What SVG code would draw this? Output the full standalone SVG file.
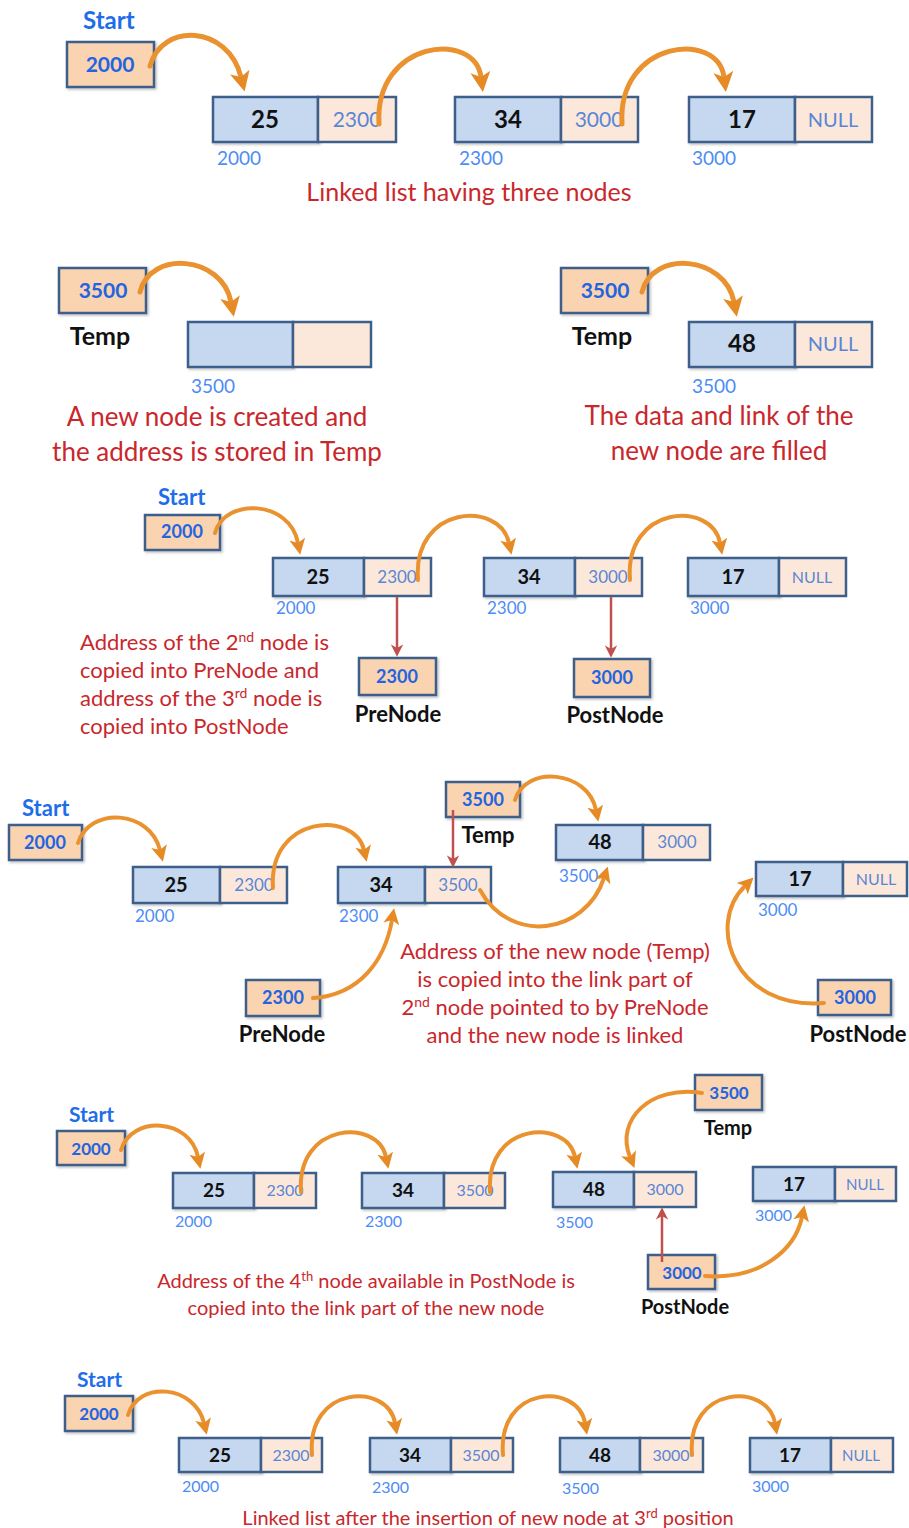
<svg xmlns="http://www.w3.org/2000/svg" width="909" height="1528" viewBox="0 0 909 1528">
<defs>
<style>
text{font-family:Lato,"Liberation Sans",sans-serif}
.ptr{fill:#FAD3B0;stroke:#3E5F8A;stroke-width:2.5}
.dat{fill:#C5D8F0;stroke:#3E5F8A;stroke-width:2.5}
.lnk{fill:#FCE8DA;stroke:#3E5F8A;stroke-width:2.5}
.val{font-weight:bold;fill:#111;text-anchor:middle}
.pv{font-weight:bold;fill:#2364E0;text-anchor:middle}
.lv{fill:#5A86D4;text-anchor:middle}
.addr{fill:#4E8CF5}
.lbl{font-weight:bold;fill:#111;text-anchor:middle}
.start{font-weight:bold;fill:#1E6EEA}
.cap{fill:#C9272C;text-anchor:middle}
.capl{fill:#C9272C}
.oa{fill:none;stroke:#E9922F;stroke-width:5;stroke-linecap:round;marker-end:url(#oh)}
.oa4{fill:none;stroke:#E9922F;stroke-width:4;stroke-linecap:round;marker-end:url(#oh)}
.ra{fill:none;stroke:#C0504D;stroke-width:2.5;marker-end:url(#rh)}
.sh{filter:url(#sh)}
</style>
<filter id="sh" x="-10%" y="-10%" width="130%" height="140%"><feDropShadow dx="1.5" dy="1.5" stdDeviation="1" flood-color="#000" flood-opacity="0.25"/></filter>
<marker id="oh" viewBox="0 0 10 10" refX="2.5" refY="5" markerWidth="4" markerHeight="4.4" orient="auto" markerUnits="strokeWidth"><path d="M0,0 L10,5 L0,10 L2.5,5 Z" fill="#E58A25"/></marker>
<marker id="rh" viewBox="0 0 10 10" refX="3" refY="5" markerWidth="5" markerHeight="5" orient="auto" markerUnits="strokeWidth"><path d="M0,0 L10,5 L0,10 L3,5 Z" fill="#C0504D"/></marker>
</defs>

<!-- Section 1 -->
<g id="s1-start">
<text class="start" x="83" y="29" font-size="24">Start</text>
<rect class="ptr sh" x="67" y="42" width="87" height="45"/>
<text class="pv" x="110" y="72" font-size="21">2000</text>
</g>
<g id="s1-n25">
<rect class="dat sh" x="213" y="97" width="105" height="45"/><rect class="lnk" x="318" y="97" width="78" height="45"/>
<text class="val" x="265" y="128" font-size="24">25</text><text class="lv" x="357" y="127" font-size="21">2300</text>
<text class="addr" x="217" y="165" font-size="19">2000</text>
</g>
<g id="s1-n34">
<rect class="dat sh" x="455" y="97" width="106" height="45"/><rect class="lnk" x="561" y="97" width="77" height="45"/>
<text class="val" x="508" y="128" font-size="24">34</text><text class="lv" x="599" y="127" font-size="21">3000</text>
<text class="addr" x="459" y="165" font-size="19">2300</text>
</g>
<g id="s1-n17">
<rect class="dat sh" x="689" y="97" width="106" height="45"/><rect class="lnk" x="795" y="97" width="77" height="45"/>
<text class="val" x="742" y="128" font-size="24">17</text><text class="lv" x="833" y="127" font-size="20">NULL</text>
<text class="addr" x="692" y="165" font-size="19">3000</text>
</g>
<text class="cap" x="469" y="201" font-size="25">Linked list having three nodes</text>

<!-- Section 2 -->
<g id="s2-temp">
<rect class="ptr sh" x="59" y="268" width="87" height="45"/>
<text class="pv" x="103" y="298" font-size="21">3500</text>
<text class="lbl" x="100" y="345" font-size="25">Temp</text>
</g>
<g id="s2-new">
<rect class="dat sh" x="188" y="322" width="105" height="45"/><rect class="lnk" x="293" y="322" width="78" height="45"/>
<text class="addr" x="191" y="393" font-size="19">3500</text>
</g>
<text class="cap" x="217" y="426" font-size="26">A new node is created and</text>
<text class="cap" x="217" y="461" font-size="26">the address is stored in Temp</text>
<g id="s2-temp2">
<rect class="ptr sh" x="561" y="268" width="87" height="45"/>
<text class="pv" x="605" y="298" font-size="21">3500</text>
<text class="lbl" x="602" y="345" font-size="25">Temp</text>
</g>
<g id="s2-n48">
<rect class="dat sh" x="689" y="322" width="106" height="45"/><rect class="lnk" x="795" y="322" width="77" height="45"/>
<text class="val" x="742" y="352" font-size="24">48</text><text class="lv" x="833" y="351" font-size="20">NULL</text>
<text class="addr" x="692" y="393" font-size="19">3500</text>
</g>
<text class="cap" x="719" y="425" font-size="26">The data and link of the</text>
<text class="cap" x="719" y="460" font-size="26">new node are filled</text>

<!-- Section 3 -->
<g id="s3-start">
<text class="start" x="158" y="505" font-size="22">Start</text>
<rect class="ptr sh" x="145" y="515" width="75" height="35"/>
<text class="pv" x="182" y="538" font-size="18">2000</text>
</g>
<g id="s3-n25">
<rect class="dat sh" x="273" y="558" width="91" height="38"/><rect class="lnk" x="364" y="558" width="67" height="38"/>
<text class="val" x="318" y="584" font-size="20">25</text><text class="lv" x="397" y="583" font-size="17">2300</text>
<text class="addr" x="276" y="614" font-size="17">2000</text>
</g>
<g id="s3-n34">
<rect class="dat sh" x="484" y="558" width="91" height="38"/><rect class="lnk" x="575" y="558" width="67" height="38"/>
<text class="val" x="529" y="584" font-size="20">34</text><text class="lv" x="608" y="583" font-size="17">3000</text>
<text class="addr" x="487" y="614" font-size="17">2300</text>
</g>
<g id="s3-n17">
<rect class="dat sh" x="688" y="558" width="91" height="38"/><rect class="lnk" x="779" y="558" width="67" height="38"/>
<text class="val" x="733" y="584" font-size="20">17</text><text class="lv" x="812" y="583" font-size="16">NULL</text>
<text class="addr" x="690" y="614" font-size="17">3000</text>
</g>
<g id="s3-pre">
<rect class="ptr sh" x="359" y="658" width="77" height="37"/>
<text class="pv" x="397" y="683" font-size="18">2300</text>
<text class="lbl" x="398" y="722" font-size="22">PreNode</text>
</g>
<g id="s3-post">
<rect class="ptr sh" x="574" y="659" width="76" height="38"/>
<text class="pv" x="612" y="684" font-size="18">3000</text>
<text class="lbl" x="615" y="723" font-size="22">PostNode</text>
</g>
<text class="capl" x="80" y="650" font-size="22">Address of the 2<tspan dy="-8" font-size="14">nd</tspan><tspan dy="8"> node is</tspan></text>
<text class="capl" x="80" y="678" font-size="22">copied into PreNode and</text>
<text class="capl" x="80" y="706" font-size="22">address of the 3<tspan dy="-8" font-size="14">rd</tspan><tspan dy="8"> node is</tspan></text>
<text class="capl" x="80" y="734" font-size="22">copied into PostNode</text>

<!-- Section 4 -->
<g id="s4-start">
<text class="start" x="22" y="816" font-size="22">Start</text>
<rect class="ptr sh" x="9" y="825" width="73" height="35"/>
<text class="pv" x="45" y="849" font-size="18">2000</text>
</g>
<g id="s4-n25">
<rect class="dat sh" x="133" y="867" width="87" height="36"/><rect class="lnk" x="220" y="867" width="67" height="36"/>
<text class="val" x="176" y="892" font-size="20">25</text><text class="lv" x="254" y="891" font-size="17">2300</text>
<text class="addr" x="135" y="922" font-size="17">2000</text>
</g>
<g id="s4-n34">
<rect class="dat sh" x="338" y="867" width="87" height="36"/><rect class="lnk" x="425" y="867" width="66" height="36"/>
<text class="val" x="381" y="892" font-size="20">34</text><text class="lv" x="458" y="891" font-size="17">3500</text>
<text class="addr" x="339" y="922" font-size="17">2300</text>
</g>
<g id="s4-temp">
<rect class="ptr sh" x="446" y="782" width="74" height="35"/>
<text class="pv" x="483" y="806" font-size="18">3500</text>
<text class="lbl" x="488" y="843" font-size="22">Temp</text>
</g>
<g id="s4-n48">
<rect class="dat sh" x="556" y="825" width="87" height="35"/><rect class="lnk" x="643" y="825" width="67" height="35"/>
<text class="val" x="600" y="849" font-size="20">48</text><text class="lv" x="677" y="848" font-size="17">3000</text>
<text class="addr" x="559" y="882" font-size="17">3500</text>
</g>
<g id="s4-n17">
<rect class="dat sh" x="756" y="862" width="87" height="34"/><rect class="lnk" x="843" y="862" width="64" height="34"/>
<text class="val" x="800" y="886" font-size="20">17</text><text class="lv" x="876" y="885" font-size="16">NULL</text>
<text class="addr" x="758" y="916" font-size="17">3000</text>
</g>
<g id="s4-pre">
<rect class="ptr sh" x="246" y="980" width="74" height="36"/>
<text class="pv" x="283" y="1004" font-size="18">2300</text>
<text class="lbl" x="282" y="1042" font-size="22">PreNode</text>
</g>
<g id="s4-post">
<rect class="ptr sh" x="818" y="980" width="73" height="35"/>
<text class="pv" x="855" y="1004" font-size="18">3000</text>
<text class="lbl" x="858" y="1042" font-size="22">PostNode</text>
</g>
<text class="cap" x="555" y="959" font-size="22">Address of the new node (Temp)</text>
<text class="cap" x="555" y="987" font-size="22">is copied  into the link part of</text>
<text class="cap" x="555" y="1015" font-size="22">2<tspan dy="-8" font-size="14">nd</tspan><tspan dy="8"> node pointed to by PreNode</tspan></text>
<text class="cap" x="555" y="1043" font-size="22">and the new node is linked</text>

<!-- Section 5 -->
<g id="s5-start">
<text class="start" x="69" y="1122" font-size="21">Start</text>
<rect class="ptr sh" x="57" y="1131" width="68" height="34"/>
<text class="pv" x="91" y="1155" font-size="17">2000</text>
</g>
<g id="s5-n25">
<rect class="dat sh" x="173" y="1173" width="81" height="35"/><rect class="lnk" x="254" y="1173" width="62" height="35"/>
<text class="val" x="214" y="1197" font-size="19">25</text><text class="lv" x="285" y="1196" font-size="16">2300</text>
<text class="addr" x="175" y="1227" font-size="16">2000</text>
</g>
<g id="s5-n34">
<rect class="dat sh" x="362" y="1173" width="82" height="35"/><rect class="lnk" x="444" y="1173" width="61" height="35"/>
<text class="val" x="403" y="1197" font-size="19">34</text><text class="lv" x="475" y="1196" font-size="16">3500</text>
<text class="addr" x="365" y="1227" font-size="16">2300</text>
</g>
<g id="s5-n48">
<rect class="dat sh" x="553" y="1172" width="81" height="35"/><rect class="lnk" x="634" y="1172" width="62" height="35"/>
<text class="val" x="594" y="1196" font-size="19">48</text><text class="lv" x="665" y="1195" font-size="16">3000</text>
<text class="addr" x="556" y="1228" font-size="16">3500</text>
</g>
<g id="s5-temp">
<rect class="ptr sh" x="695" y="1075" width="67" height="35"/>
<text class="pv" x="729" y="1099" font-size="17">3500</text>
<text class="lbl" x="728" y="1135" font-size="20">Temp</text>
</g>
<g id="s5-n17">
<rect class="dat sh" x="753" y="1167" width="82" height="34"/><rect class="lnk" x="835" y="1167" width="61" height="34"/>
<text class="val" x="794" y="1191" font-size="19">17</text><text class="lv" x="865" y="1190" font-size="15">NULL</text>
<text class="addr" x="755" y="1221" font-size="16">3000</text>
</g>
<g id="s5-post">
<rect class="ptr sh" x="648" y="1255" width="67" height="34"/>
<text class="pv" x="682" y="1279" font-size="17">3000</text>
<text class="lbl" x="685" y="1314" font-size="20">PostNode</text>
</g>
<text class="cap" x="366" y="1288" font-size="20">Address of the 4<tspan dy="-7" font-size="13">th</tspan><tspan dy="7"> node available in PostNode is</tspan></text>
<text class="cap" x="366" y="1315" font-size="20">copied into the link part of the new node</text>

<!-- Section 6 -->
<g id="s6-start">
<text class="start" x="77" y="1387" font-size="21">Start</text>
<rect class="ptr sh" x="65" y="1396" width="68" height="35"/>
<text class="pv" x="99" y="1420" font-size="17">2000</text>
</g>
<g id="s6-n25">
<rect class="dat sh" x="179" y="1438" width="82" height="34"/><rect class="lnk" x="261" y="1438" width="61" height="34"/>
<text class="val" x="220" y="1462" font-size="19">25</text><text class="lv" x="291" y="1461" font-size="16">2300</text>
<text class="addr" x="182" y="1492" font-size="16">2000</text>
</g>
<g id="s6-n34">
<rect class="dat sh" x="370" y="1438" width="81" height="34"/><rect class="lnk" x="451" y="1438" width="62" height="34"/>
<text class="val" x="410" y="1462" font-size="19">34</text><text class="lv" x="481" y="1461" font-size="16">3500</text>
<text class="addr" x="372" y="1493" font-size="16">2300</text>
</g>
<g id="s6-n48">
<rect class="dat sh" x="560" y="1438" width="80" height="34"/><rect class="lnk" x="640" y="1438" width="63" height="34"/>
<text class="val" x="600" y="1462" font-size="19">48</text><text class="lv" x="671" y="1461" font-size="16">3000</text>
<text class="addr" x="562" y="1494" font-size="16">3500</text>
</g>
<g id="s6-n17">
<rect class="dat sh" x="750" y="1438" width="81" height="34"/><rect class="lnk" x="831" y="1438" width="62" height="34"/>
<text class="val" x="790" y="1462" font-size="19">17</text><text class="lv" x="861" y="1461" font-size="15">NULL</text>
<text class="addr" x="752" y="1492" font-size="16">3000</text>
</g>
<text class="cap" x="488" y="1525" font-size="20">Linked list after the insertion of new node at 3<tspan dy="-7" font-size="13">rd</tspan><tspan dy="7"> position</tspan></text>

<!-- Connectors -->
<g id="connectors">
<path class="oa" d="M150,66 C162,22 228,25 241,77"/>
<path class="oa" d="M379,124 C374,40 475,30 481,77"/>
<path class="oa" d="M622,124 C617,40 718,30 724,77"/>
<path class="oa" d="M140,292 C150,250 222,255 231,302"/>
<path class="oa" d="M642,292 C652,250 725,255 734,302"/>
<path class="oa4" d="M215,533 C225,497 290,500 298,543"/>
<path class="oa4" d="M418,580 C412,505 500,500 509,543"/>
<path class="oa4" d="M630,580 C624,505 712,500 720,543"/>
<path class="ra" d="M397,597 L397,648"/>
<path class="ra" d="M611,597 L611,649"/>
<path class="oa4" d="M78,843 C90,806 150,810 160,850"/>
<path class="oa4" d="M273,888 C268,815 355,810 364,850"/>
<path class="oa4" d="M515,800 C525,765 588,770 596,810"/>
<path class="oa4" d="M480,890 C510,945 585,935 604,878"/>
<path class="oa4" d="M313,998 C360,995 385,960 392,920"/>
<path class="oa4" d="M824,1003 C735,1010 705,925 745,886"/>
<path class="ra" d="M453,810 L453,859"/>
<path class="oa4" d="M121,1150 C132,1115 190,1118 198,1157"/>
<path class="oa4" d="M301,1192 C296,1122 378,1118 386,1157"/>
<path class="oa4" d="M490,1192 C485,1122 567,1118 575,1157"/>
<path class="oa4" d="M702,1093 C650,1085 615,1120 630,1157"/>
<path class="oa4" d="M705,1276 C760,1280 795,1250 802,1217"/>
<path class="ra" d="M662,1262 L662,1216"/>
<path class="oa4" d="M128,1415 C138,1380 195,1385 204,1423"/>
<path class="oa4" d="M312,1455 C306,1385 388,1382 395,1423"/>
<path class="oa4" d="M503,1455 C497,1385 578,1382 585,1423"/>
<path class="oa4" d="M692,1455 C686,1385 768,1382 775,1423"/>
</g>
</svg>
